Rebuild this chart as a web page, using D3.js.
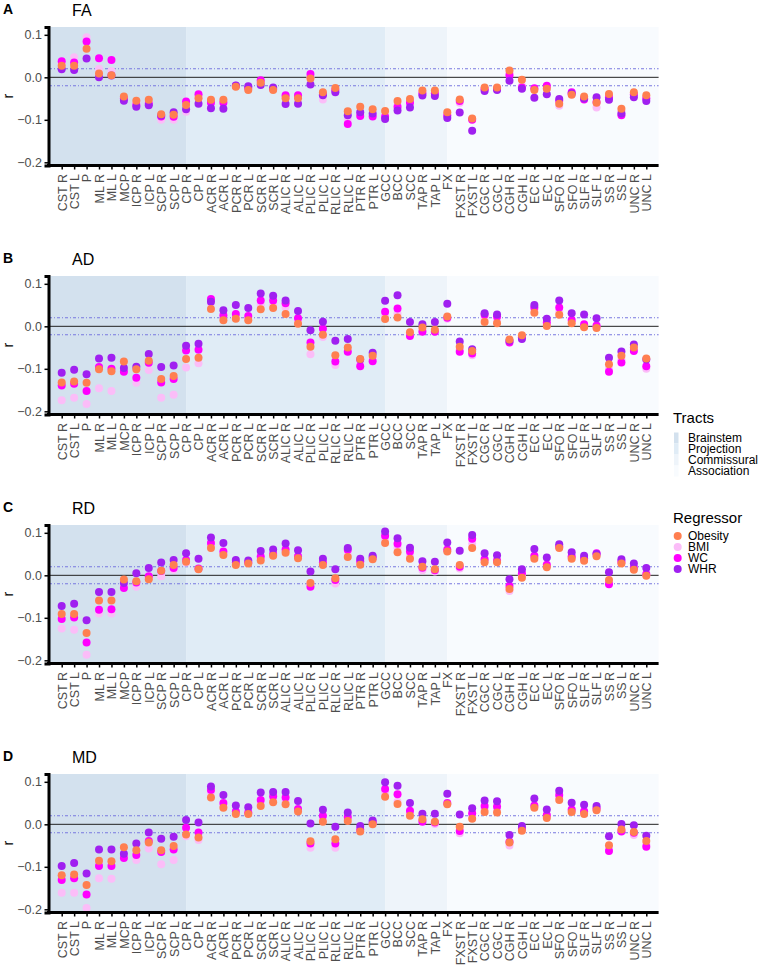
<!DOCTYPE html>
<html>
<head>
<meta charset="utf-8">
<script src="https://cdn.jsdelivr.net/npm/d3@7"></script>
<style>
  body { margin: 0; background: #fff; }
  svg text { font-family: "Liberation Sans", Arial, Helvetica, sans-serif; }
</style>
</head>
<body>
<div id="chart"></div>
<script>
// tract names, in plotting order
const tracts = [
  "CST R", "CST L", "P", "ML R", "ML L", "MCP", "ICP R", "ICP L", "SCP R", "SCP L",
  "CP R", "CP L", "ACR R", "ACR L", "PCR R", "PCR L", "SCR R", "SCR L", "ALIC R", "ALIC L", "PLIC R", "PLIC L", "RLIC R", "RLIC L", "PTR R", "PTR L",
  "GCC", "BCC", "SCC", "TAP R", "TAP L",
  "FX", "FXST R", "FXST L", "CGC R", "CGC L", "CGH R", "CGH L", "EC R", "EC L", "SFO R", "SFO L", "SLF R", "SLF L", "SS R", "SS L", "UNC R", "UNC L"
];
const tractGroups = ["Brainstem", "Projection", "Commissural", "Association"];
const groupFirst = ["CST R", "CP R", "GCC", "FX"];
const groupColors = ["#d3e1ee", "#e0ecf6", "#eef4fa", "#f8fbfe"];

const regressors = ["Obesity", "BMI", "WC", "WHR"];
const regColors = ["#ff7f50", "#fbbdf8", "#ff00ff", "#a020f0"];
const drawOrder = ["BMI", "WC", "WHR", "Obesity"];

const yTicks = [-0.2, -0.1, 0.0, 0.1];
const refLines = [-0.02, 0.02];

// FA
const faObesity = [0.027, 0.027, 0.067, 0.009, 0.005, -0.045, -0.055, -0.053, -0.087, -0.088,
  -0.065, -0.049, -0.053, -0.053, -0.022, -0.030, -0.013, -0.030, -0.049, -0.049, -0.003, -0.035, -0.025, -0.080, -0.069, -0.075,
  -0.079, -0.056, -0.051, -0.031, -0.031,
  -0.082, -0.052, -0.097, -0.024, -0.024, 0.016, -0.006, -0.030, -0.027, -0.062, -0.041, -0.045, -0.060, -0.039, -0.074, -0.035, -0.042];
const faBMI = [0.032, 0.047, 0.094, 0.020, 0.015, -0.050, -0.060, -0.058, -0.100, -0.100,
  -0.081, -0.045, -0.056, -0.055, -0.021, -0.027, -0.011, -0.028, -0.046, -0.045, 0.000, -0.052, -0.028, -0.100, -0.085, -0.090,
  -0.090, -0.065, -0.057, -0.035, -0.036,
  -0.088, -0.060, -0.098, -0.026, -0.026, 0.010, -0.020, -0.028, -0.025, -0.067, -0.040, -0.048, -0.071, -0.043, -0.080, -0.042, -0.048];
const faWC = [0.038, 0.035, 0.084, 0.045, 0.041, -0.050, -0.065, -0.062, -0.092, -0.093,
  -0.057, -0.040, -0.060, -0.060, -0.020, -0.025, -0.007, -0.027, -0.042, -0.042, 0.008, -0.040, -0.030, -0.110, -0.091, -0.092,
  -0.093, -0.070, -0.060, -0.038, -0.038,
  -0.090, -0.056, -0.100, -0.028, -0.027, 0.005, -0.024, -0.026, -0.020, -0.055, -0.035, -0.052, -0.058, -0.047, -0.089, -0.040, -0.050];
const faWHR = [0.019, 0.017, 0.044, 0.000, 0.004, -0.055, -0.069, -0.066, -0.090, -0.082,
  -0.075, -0.062, -0.073, -0.074, -0.019, -0.021, -0.018, -0.024, -0.063, -0.062, -0.017, -0.042, -0.035, -0.089, -0.082, -0.085,
  -0.098, -0.078, -0.071, -0.043, -0.044,
  -0.096, -0.083, -0.126, -0.032, -0.030, -0.008, -0.027, -0.048, -0.040, -0.051, -0.038, -0.050, -0.047, -0.053, -0.085, -0.047, -0.056];

// AD
const adObesity = [-0.132, -0.130, -0.133, -0.101, -0.106, -0.083, -0.101, -0.081, -0.124, -0.117,
  -0.077, -0.074, 0.041, 0.014, 0.018, 0.014, 0.040, 0.043, 0.029, 0.006, -0.048, -0.020, -0.068, -0.050, -0.077, -0.069,
  0.017, 0.021, -0.014, -0.003, -0.008,
  0.023, -0.048, -0.058, 0.010, 0.007, -0.031, -0.021, 0.032, 0.001, 0.027, 0.007, -0.002, -0.004, -0.089, -0.069, -0.050, -0.076];
const adBMI = [-0.174, -0.168, -0.183, -0.146, -0.152, -0.105, -0.133, -0.103, -0.168, -0.161,
  -0.097, -0.087, 0.055, 0.020, 0.022, 0.018, 0.050, 0.052, 0.045, 0.010, -0.066, -0.025, -0.091, -0.058, -0.085, -0.078,
  0.025, 0.030, -0.020, -0.010, -0.012,
  0.018, -0.055, -0.068, 0.018, 0.015, -0.036, -0.024, 0.040, 0.005, 0.035, 0.010, 0.000, -0.002, -0.100, -0.078, -0.055, -0.100];
const adWC = [-0.139, -0.135, -0.152, -0.096, -0.100, -0.107, -0.121, -0.086, -0.132, -0.124,
  -0.057, -0.055, 0.064, 0.026, 0.029, 0.024, 0.061, 0.061, 0.054, 0.019, -0.038, -0.006, -0.083, -0.060, -0.094, -0.082,
  0.034, 0.042, -0.023, -0.013, -0.013,
  0.020, -0.060, -0.064, 0.027, 0.023, -0.038, -0.026, 0.044, 0.009, 0.044, 0.015, 0.005, 0.002, -0.107, -0.085, -0.058, -0.094];
const adWHR = [-0.109, -0.102, -0.113, -0.076, -0.074, -0.098, -0.095, -0.065, -0.096, -0.092,
  -0.046, -0.041, 0.058, 0.038, 0.050, 0.043, 0.077, 0.072, 0.061, 0.036, -0.009, 0.011, -0.034, -0.030, -0.078, -0.062,
  0.060, 0.073, 0.010, 0.005, 0.010,
  0.053, -0.036, -0.054, 0.031, 0.028, -0.034, -0.030, 0.050, 0.018, 0.061, 0.031, 0.028, 0.019, -0.074, -0.059, -0.043, -0.078];

// RD
const rdObesity = [-0.091, -0.091, -0.136, -0.059, -0.059, -0.010, -0.014, -0.009, 0.011, 0.024,
  0.032, 0.014, 0.064, 0.048, 0.024, 0.028, 0.035, 0.046, 0.053, 0.040, -0.018, 0.024, -0.007, 0.043, 0.025, 0.038,
  0.076, 0.054, 0.039, 0.020, 0.014,
  0.056, 0.024, 0.064, 0.031, 0.031, -0.032, -0.006, 0.039, 0.019, 0.064, 0.039, 0.034, 0.045, -0.011, 0.028, 0.013, -0.001];
const rdBMI = [-0.125, -0.128, -0.187, -0.090, -0.090, -0.025, -0.027, -0.003, -0.002, 0.013,
  0.030, 0.015, 0.070, 0.050, 0.027, 0.029, 0.040, 0.047, 0.057, 0.042, -0.022, 0.027, -0.019, 0.050, 0.030, 0.040,
  0.085, 0.065, 0.047, 0.012, 0.009,
  0.058, 0.016, 0.075, 0.035, 0.033, -0.037, 0.000, 0.043, 0.022, 0.066, 0.042, 0.037, 0.048, -0.016, 0.030, 0.016, 0.000];
const rdWC = [-0.103, -0.099, -0.158, -0.081, -0.080, -0.030, -0.017, -0.002, 0.010, 0.017,
  0.036, 0.016, 0.076, 0.056, 0.030, 0.030, 0.044, 0.050, 0.061, 0.045, -0.027, 0.030, -0.011, 0.060, 0.033, 0.042,
  0.093, 0.074, 0.056, 0.018, 0.012,
  0.061, 0.020, 0.086, 0.038, 0.035, -0.025, 0.005, 0.046, 0.025, 0.068, 0.045, 0.040, 0.052, -0.021, 0.032, 0.018, 0.003];
const rdWHR = [-0.072, -0.067, -0.106, -0.039, -0.039, -0.018, 0.005, 0.017, 0.030, 0.036,
  0.052, 0.039, 0.089, 0.076, 0.036, 0.035, 0.057, 0.061, 0.075, 0.059, 0.009, 0.039, 0.014, 0.064, 0.039, 0.046,
  0.103, 0.087, 0.065, 0.033, 0.032,
  0.077, 0.058, 0.095, 0.052, 0.047, -0.009, 0.014, 0.062, 0.042, 0.073, 0.054, 0.046, 0.050, 0.007, 0.038, 0.028, 0.017];

// MD
const mdObesity = [-0.120, -0.118, -0.143, -0.086, -0.087, -0.054, -0.061, -0.043, -0.061, -0.051,
  -0.024, -0.031, 0.063, 0.039, 0.024, 0.024, 0.043, 0.052, 0.047, 0.030, -0.040, 0.006, -0.035, 0.008, -0.017, 0.000,
  0.065, 0.048, 0.020, 0.012, 0.006,
  0.047, -0.006, 0.013, 0.029, 0.028, -0.043, -0.015, 0.039, 0.015, 0.057, 0.029, 0.024, 0.033, -0.049, -0.012, -0.018, -0.039];
const mdBMI = [-0.161, -0.161, -0.197, -0.127, -0.128, -0.075, -0.084, -0.057, -0.094, -0.084,
  -0.028, -0.037, 0.075, 0.045, 0.027, 0.026, 0.050, 0.060, 0.055, 0.032, -0.055, 0.012, -0.055, 0.012, -0.015, 0.002,
  0.075, 0.053, 0.026, 0.009, 0.001,
  0.048, -0.021, 0.020, 0.036, 0.035, -0.050, -0.012, 0.042, 0.018, 0.063, 0.032, 0.028, 0.035, -0.056, -0.015, -0.025, -0.047];
const mdWC = [-0.131, -0.127, -0.165, -0.098, -0.098, -0.079, -0.072, -0.039, -0.065, -0.059,
  -0.008, -0.019, 0.081, 0.050, 0.030, 0.028, 0.057, 0.066, 0.063, 0.036, -0.045, 0.020, -0.045, 0.017, -0.012, 0.004,
  0.083, 0.071, 0.032, 0.006, 0.004,
  0.050, -0.016, 0.026, 0.043, 0.042, -0.041, -0.010, 0.044, 0.022, 0.069, 0.035, 0.031, 0.038, -0.063, -0.017, -0.020, -0.053];
const mdWHR = [-0.098, -0.091, -0.116, -0.059, -0.059, -0.069, -0.045, -0.019, -0.034, -0.029,
  0.010, 0.004, 0.089, 0.069, 0.044, 0.040, 0.075, 0.076, 0.076, 0.055, 0.002, 0.034, -0.006, 0.028, -0.004, 0.009,
  0.099, 0.091, 0.050, 0.025, 0.025,
  0.072, 0.023, 0.038, 0.056, 0.054, -0.025, -0.004, 0.061, 0.035, 0.079, 0.051, 0.046, 0.043, -0.028, 0.001, -0.002, -0.027];

const panels = [
  { label: "A", title: "FA", series: { Obesity: faObesity, BMI: faBMI, WC: faWC, WHR: faWHR } },
  { label: "B", title: "AD", series: { Obesity: adObesity, BMI: adBMI, WC: adWC, WHR: adWHR } },
  { label: "C", title: "RD", series: { Obesity: rdObesity, BMI: rdBMI, WC: rdWC, WHR: rdWHR } },
  { label: "D", title: "MD", series: { Obesity: mdObesity, BMI: mdBMI, WC: mdWC, WHR: mdWHR } }
];

panels.forEach(p => regressors.forEach(r => {
  if (p.series[r].length !== tracts.length) throw new Error(p.title + " " + r + " has " + p.series[r].length);
}));

const width = 760, height = 966;
const plotLeft = 49, plotRight = 658.6;
const panelTop = 27, panelH = 138.5, panelStep = 249;

const svg = d3.select("#chart").append("svg")
  .attr("width", width)
  .attr("height", height);

const x = d3.scalePoint()
  .domain(tracts)
  .range([61.7, 646.3]);

const colorOf = d3.scaleOrdinal().domain(regressors).range(regColors);

panels.forEach((p, i) => {
  const top = panelTop + i * panelStep;
  const bottom = top + panelH;
  const y = d3.scaleLinear()
    .domain([-0.2075, 0.1184])
    .range([bottom, top]);

  const g = svg.append("g");

  // tract group shading
  g.selectAll("rect.bg")
    .data(tractGroups)
    .join("rect")
    .attr("class", "bg")
    .attr("x", (d, k) => k === 0 ? plotLeft : x(groupFirst[k]))
    .attr("width", (d, k) => {
      const x0 = k === 0 ? plotLeft : x(groupFirst[k]);
      const x1 = k === tractGroups.length - 1 ? plotRight : x(groupFirst[k + 1]);
      return x1 - x0;
    })
    .attr("y", top)
    .attr("height", bottom - top)
    .attr("fill", (d, k) => groupColors[k]);

  // reference lines
  g.append("line")
    .attr("x1", plotLeft).attr("x2", plotRight)
    .attr("y1", y(0)).attr("y2", y(0))
    .attr("stroke", "#222").attr("stroke-width", 1);

  g.selectAll("line.ref")
    .data(refLines)
    .join("line")
    .attr("class", "ref")
    .attr("x1", plotLeft).attr("x2", plotRight)
    .attr("y1", d => y(d)).attr("y2", d => y(d))
    .attr("stroke", "#7878e0")
    .attr("stroke-width", 1.1)
    .attr("stroke-dasharray", "3,2,1,2");

  // points
  drawOrder.forEach(r => {
    g.append("g")
      .selectAll("circle")
      .data(p.series[r].map((v, k) => ({ tract: tracts[k], v })))
      .join("circle")
      .attr("cx", d => x(d.tract))
      .attr("cy", d => y(d.v))
      .attr("r", 4)
      .attr("fill", colorOf(r));
  });

  // y axis
  const ya = g.append("g")
    .attr("transform", `translate(${plotLeft - 0.5},0)`)
    .call(d3.axisLeft(y).tickValues(yTicks).tickFormat(d3.format(".1f")).tickSizeOuter(0).tickSize(4).tickPadding(2.5));
  ya.select(".domain").attr("stroke", "#000").attr("stroke-width", 3);
  ya.selectAll(".tick line").attr("stroke", "#000").attr("stroke-width", 1.5);
  ya.selectAll(".tick text").attr("fill", "#4d4d4d").style("font-size", "12.5px");

  // x axis
  const xa = g.append("g")
    .attr("transform", `translate(0,${bottom})`)
    .call(d3.axisBottom(x).tickSize(4).tickSizeOuter(0));
  xa.select(".domain").remove();
  xa.append("line")
    .attr("x1", plotLeft - 2).attr("x2", plotRight)
    .attr("stroke", "#000").attr("stroke-width", 3);
  xa.selectAll(".tick line").attr("stroke", "#000").attr("stroke-width", 1.5);
  xa.selectAll(".tick text")
    .attr("transform", "rotate(-90)")
    .attr("x", -8.5)
    .attr("y", 0)
    .attr("dy", "0.35em")
    .style("text-anchor", "end")
    .style("font-size", "12.5px")
    .attr("fill", "#4d4d4d");

  // labels
  g.append("text")
    .attr("x", 3).attr("y", top - 13.5)
    .style("font-size", "14px").style("font-weight", "bold")
    .text(p.label);
  g.append("text")
    .attr("x", 72).attr("y", top - 11.5)
    .style("font-size", "16px")
    .text(p.title);
  g.append("text")
    .attr("transform", `translate(12.5,${(top + bottom) / 2}) rotate(-90)`)
    .attr("text-anchor", "middle")
    .style("font-size", "14px")
    .text("r");
});

// legends
const legTracts = svg.append("g");
legTracts.append("text")
  .attr("x", 673).attr("y", 422.5)
  .style("font-size", "15px")
  .text("Tracts");
legTracts.selectAll("rect")
  .data(tractGroups)
  .join("rect")
  .attr("x", 674).attr("y", (d, k) => 432.5 + k * 11)
  .attr("width", 4.5).attr("height", 11)
  .attr("fill", (d, k) => groupColors[k]);
legTracts.selectAll("text.lab")
  .data(tractGroups)
  .join("text")
  .attr("class", "lab")
  .attr("x", 688).attr("y", (d, k) => 438 + k * 11)
  .attr("dy", "0.35em")
  .style("font-size", "12px")
  .text(d => d);

const legReg = svg.append("g");
legReg.append("text")
  .attr("x", 673).attr("y", 522.5)
  .style("font-size", "15px")
  .text("Regressor");
legReg.selectAll("circle")
  .data(regressors)
  .join("circle")
  .attr("cx", 677.7).attr("cy", (d, k) => 536 + k * 11)
  .attr("r", 4)
  .attr("fill", d => colorOf(d));
legReg.selectAll("text.lab")
  .data(regressors)
  .join("text")
  .attr("class", "lab")
  .attr("x", 688).attr("y", (d, k) => 536 + k * 11)
  .attr("dy", "0.35em")
  .style("font-size", "12px")
  .text(d => d);
</script>
</body>
</html>
